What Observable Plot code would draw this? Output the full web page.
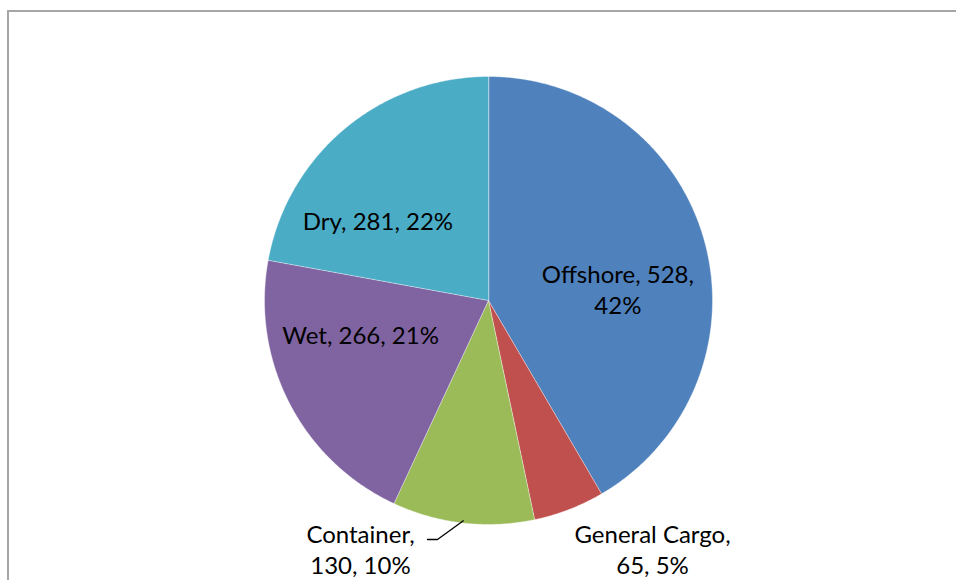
<!DOCTYPE html>
<html>
<head>
<meta charset="utf-8">
<script src="https://cdn.jsdelivr.net/npm/d3@7"></script>
<script src="https://cdn.jsdelivr.net/npm/@observablehq/plot@0.6"></script>
<style>
  html, body { margin: 0; padding: 0; background: #fff; }
  #wrap { position: relative; width: 956px; height: 580px; overflow: hidden; }
  #border { position: absolute; left: 7px; top: 10px; width: 2000px; height: 2000px;
            border-left: 2px solid #a6a6a6; border-top: 2px solid #a6a6a6; }
  #chart { position: absolute; left: 0; top: 0; }
</style>
</head>
<body>
<div id="wrap"><div id="border"></div><div id="chart"></div></div>
<script>
// ---- data ----
const categories = ["Offshore", "General Cargo", "Container", "Wet", "Dry"];
const values = [528, 65, 130, 266, 281];
const percents = ["42%", "5%", "10%", "21%", "22%"];
const colors = ["#4F81BD", "#C0504D", "#9BBB59", "#8064A2", "#4BACC6"];
// label text, line breaks as in the chart
const labelText = ["Offshore, 528,\n42%", "General Cargo,\n65, 5%", "Container,\n130, 10%", "Wet, 266, 21%", "Dry, 281, 22%"];
// label placement (layout): polar angle in degrees clockwise from top, radius as fraction of pie radius
const labelAngle = [84.7, 146.5, 207.3, 255.5, 306];
const labelRadius = [0.58, 1.327, 1.246, 0.59, 0.61];

// ---- layout ----
const W = 956, H = 580, R = 224, CX = 488, CY = 300;

const pie = d3.pie().sort(null).startAngle(0).endAngle(2 * Math.PI)(values);
const pt = (a, r) => ({x: r * Math.sin(a), y: r * Math.cos(a)});

const slicePts = [];
pie.forEach((p, i) => {
  const cat = categories[i];
  slicePts.push({cat, ...pt(0, 0)});
  const n = Math.max(2, Math.ceil((p.endAngle - p.startAngle) / (Math.PI / 360)));
  for (let k = 0; k <= n; k++) {
    const a = p.startAngle + (p.endAngle - p.startAngle) * k / n;
    slicePts.push({cat, ...pt(a, 1)});
  }
});

const labels = categories.map((c, i) => {
  const a = labelAngle[i] * Math.PI / 180;
  return {cat: c, text: labelText[i], ...pt(a, labelRadius[i])};
});

// leader line for Container label
const ci = categories.indexOf("Container");
const cmid = (pie[ci].startAngle + pie[ci].endAngle) / 2;
const leader = [
  pt(cmid, 0.99),
  {x: (437 - CX) / R, y: (CY - 539) / R},
  {x: (427 - CX) / R, y: (CY - 539) / R}
];

const chart = Plot.plot({
  width: W, height: H,
  margin: 0,
  x: {domain: [-CX / R, (W - CX) / R], axis: null},
  y: {domain: [-(H - CY) / R, CY / R], axis: null},
  color: {domain: categories, range: colors},
  style: {background: "transparent"},
  marks: [
    Plot.line(slicePts, {x: "x", y: "y", z: "cat", fill: "cat", stroke: "#ffffff", strokeWidth: 0.8, strokeOpacity: 0.5, curve: "linear-closed"}),
    Plot.line(leader, {x: "x", y: "y", stroke: "#000", strokeWidth: 1.3}),
    Plot.text(labels, {x: "x", y: "y", text: "text", fill: "#000", fontSize: 24, lineHeight: 1.3, lineAnchor: "middle", textAnchor: "middle",
      fontFamily: "Lato, 'Open Sans', sans-serif"})
  ]
});
document.getElementById("chart").appendChild(chart);
</script>
</body>
</html>
